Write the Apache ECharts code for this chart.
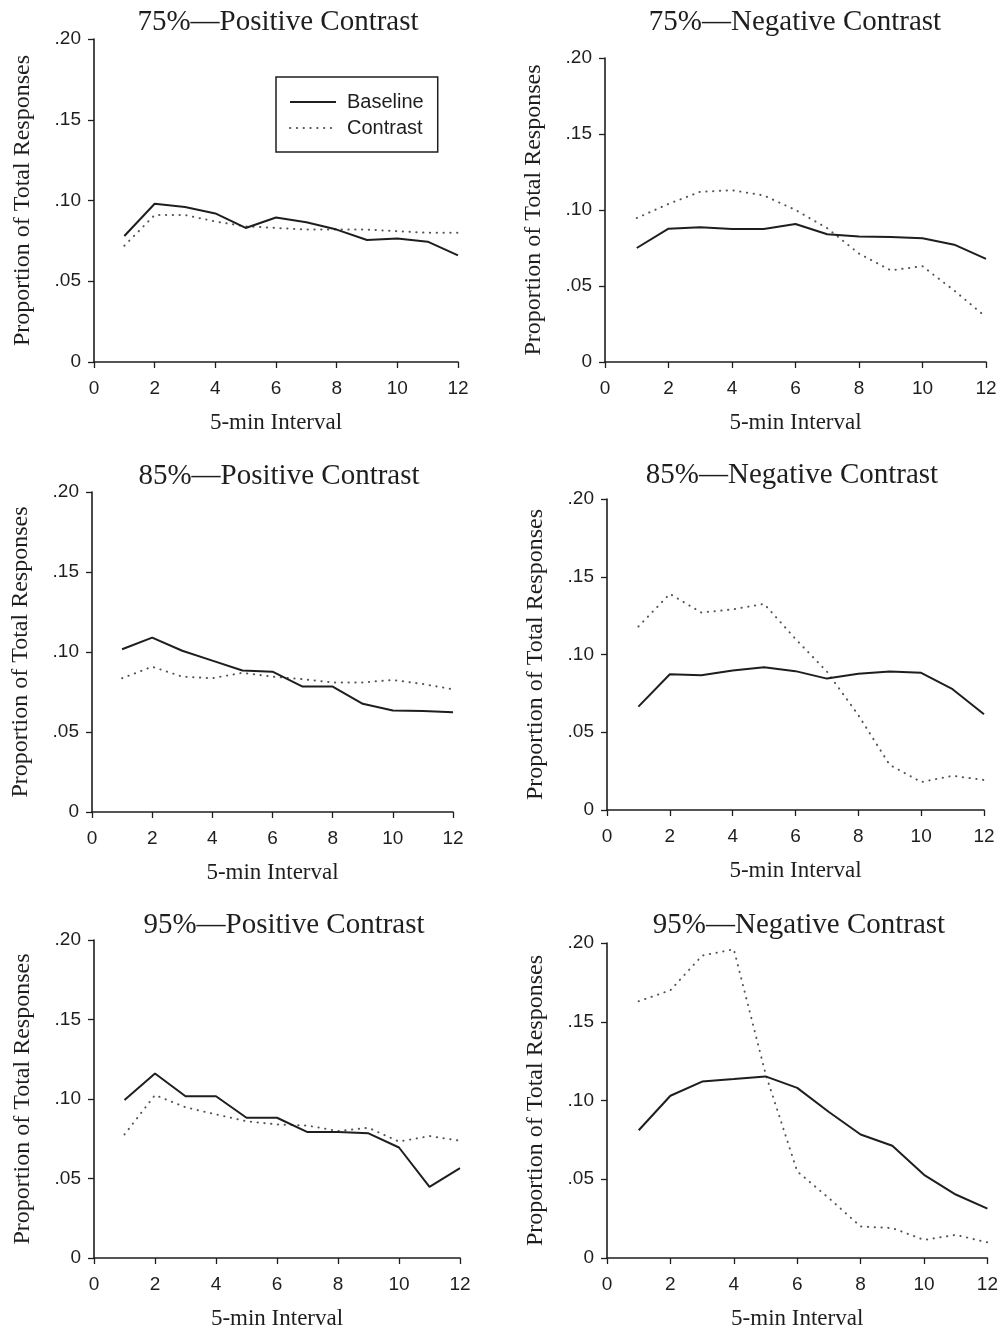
<!DOCTYPE html>
<html>
<head>
<meta charset="utf-8">
<script src="https://cdn.jsdelivr.net/npm/echarts@6/dist/echarts.min.js"></script>
<style>
  html, body { margin: 0; padding: 0; background: #fff; }
  #chart { width: 1001px; height: 1331px; }
</style>
</head>
<body>
<div id="chart"></div>
<script>
// ---- Data ----
const intervals = [1, 2, 3, 4, 5, 6, 7, 8, 9, 10, 11, 12];
const xTickValues = [0, 2, 4, 6, 8, 10, 12];
const yTickLabels = ['0', '.05', '.10', '.15', '.20'];
const seriesNames = ['Baseline', 'Contrast'];
const panelTitles = [
  '75%\u2014Positive Contrast', '75%\u2014Negative Contrast',
  '85%\u2014Positive Contrast', '85%\u2014Negative Contrast',
  '95%\u2014Positive Contrast', '95%\u2014Negative Contrast'
];
const xAxisTitle = '5-min Interval';
const yAxisTitle = 'Proportion of Total Responses';

const baseline75Pos = [0.078, 0.098, 0.096, 0.092, 0.083, 0.0895, 0.0865, 0.082, 0.0755, 0.0765, 0.0745, 0.066];
const contrast75Pos = [0.072, 0.091, 0.091, 0.087, 0.084, 0.083, 0.082, 0.082, 0.082, 0.081, 0.080, 0.080];
const baseline75Neg = [0.075, 0.0877, 0.0886, 0.0875, 0.0875, 0.0908, 0.084, 0.0825, 0.0823, 0.0814, 0.0772, 0.0678];
const contrast75Neg = [0.0947, 0.104, 0.112, 0.113, 0.1096, 0.100, 0.088, 0.0713, 0.0603, 0.063, 0.047, 0.0296];
const baseline85Pos = [0.1017, 0.109, 0.1008, 0.0946, 0.0884, 0.0877, 0.0784, 0.0784, 0.0676, 0.0634, 0.0632, 0.0624];
const contrast85Pos = [0.0836, 0.0908, 0.0846, 0.0836, 0.087, 0.0846, 0.083, 0.081, 0.081, 0.0825, 0.080, 0.0767];
const baseline85Neg = [0.0665, 0.0873, 0.0867, 0.0897, 0.0918, 0.0893, 0.0845, 0.0876, 0.089, 0.0882, 0.0777, 0.0616];
const contrast85Neg = [0.118, 0.139, 0.127, 0.129, 0.1326, 0.110, 0.089, 0.061, 0.029, 0.018, 0.022, 0.0193];
const baseline95Pos = [0.0994, 0.116, 0.1017, 0.1017, 0.0882, 0.0882, 0.0792, 0.0792, 0.0784, 0.0695, 0.0447, 0.0565];
const contrast95Pos = [0.0777, 0.1025, 0.0948, 0.0903, 0.086, 0.084, 0.0833, 0.0798, 0.0819, 0.0732, 0.0767, 0.0738];
const baseline95Neg = [0.0811, 0.103, 0.112, 0.1136, 0.1153, 0.108, 0.0927, 0.0784, 0.0713, 0.0528, 0.0403, 0.0314];
const contrast95Neg = [0.163, 0.170, 0.192, 0.196, 0.117, 0.055, 0.038, 0.020, 0.019, 0.0115, 0.0147, 0.0099];

const panelData = [
  [baseline75Pos, contrast75Pos], [baseline75Neg, contrast75Neg],
  [baseline85Pos, contrast85Pos], [baseline85Neg, contrast85Neg],
  [baseline95Pos, contrast95Pos], [baseline95Neg, contrast95Neg]
];

// ---- Layout ----
const grids = [
  { left: 94, top: 39, width: 364, height: 323 },
  { left: 605, top: 58, width: 381, height: 304 },
  { left: 92, top: 492, width: 361, height: 320 },
  { left: 607, top: 499, width: 377, height: 311 },
  { left: 94, top: 940, width: 366, height: 323 },
  { left: 607, top: 943, width: 382, height: 318 }
];
const titlePos = [
  { x: 278, y: 20 }, { x: 795, y: 20 },
  { x: 279, y: 474 }, { x: 792, y: 473 },
  { x: 284, y: 923 }, { x: 799, y: 923 }
];

const ink = '#1e1e1e';
const dotInk = '#555';
const serif = '"Liberation Serif", "Times New Roman", serif';
const sans = '"Liberation Sans", Arial, sans-serif';

const solidStyle = { color: ink, width: 2, type: 'solid' };
const dotStyle = { color: dotInk, width: 2, type: [0.3, 6.5], cap: 'round' };

const yLabelMap = {};
[0, 0.05, 0.1, 0.15, 0.2].forEach((v, i) => { yLabelMap[v.toFixed(2)] = yTickLabels[i]; });

const option = {
  backgroundColor: '#ffffff',
  animation: false,
  title: panelTitles.map((t, i) => ({
    text: t,
    left: titlePos[i].x,
    top: titlePos[i].y - 12,
    textAlign: 'center',
    padding: 0,
    textStyle: { fontFamily: serif, fontSize: 29, fontWeight: 'normal', color: ink }
  })),
  legend: {
    show: true,
    left: 276, top: 77,
    orient: 'vertical',
    data: seriesNames,
    padding: [15, 14, 14, 13],
    borderColor: ink, borderWidth: 1.5,
    itemWidth: 46, itemHeight: 14, itemGap: 6,
    itemStyle: { opacity: 0, borderWidth: 0 },
    textStyle: { fontFamily: sans, fontSize: 20, color: ink, lineHeight: 20, padding: [0, 0, 0, 6] }
  },
  grid: grids.map(g => Object.assign({ containLabel: false }, g)),
  xAxis: grids.map((g, i) => ({
    gridIndex: i, type: 'value', min: 0, max: 12, interval: 2,
    name: xAxisTitle, nameLocation: 'middle', nameGap: 49,
    nameTextStyle: { fontFamily: serif, fontSize: 23, color: ink },
    axisLine: { show: true, onZero: false, lineStyle: { color: ink, width: 1.6 } },
    axisTick: { show: true, length: 6, inside: false, lineStyle: { color: ink, width: 1.3 } },
    axisLabel: { fontFamily: sans, fontSize: 19, color: ink, margin: 17,
      formatter: v => (xTickValues.indexOf(v) >= 0 ? String(v) : '') },
    splitLine: { show: false }
  })),
  yAxis: grids.map((g, i) => ({
    gridIndex: i, type: 'value', min: 0, max: 0.2, interval: 0.05,
    name: yAxisTitle, nameLocation: 'middle', nameGap: 59,
    nameTextStyle: { fontFamily: serif, fontSize: 24, color: ink },
    axisLine: { show: true, onZero: false, lineStyle: { color: ink, width: 1.6 } },
    axisTick: { show: true, length: 6, inside: false, lineStyle: { color: ink, width: 1.3 } },
    axisLabel: { fontFamily: sans, fontSize: 19, color: ink, margin: 13,
      formatter: v => yLabelMap[v.toFixed(2)] || '' },
    splitLine: { show: false }
  })),
  series: []
};

panelData.forEach((pair, i) => {
  pair.forEach((vals, k) => {
    option.series.push({
      name: seriesNames[k],
      type: 'line',
      xAxisIndex: i, yAxisIndex: i,
      data: intervals.map((x, j) => [x, vals[j]]),
      symbol: 'none',
      lineStyle: k === 0 ? solidStyle : dotStyle,
      itemStyle: { color: k === 0 ? ink : dotInk },
      z: k === 0 ? 3 : 2
    });
  });
});

const chart = echarts.init(document.getElementById('chart'), null, { renderer: 'canvas' });
chart.setOption(option);
</script>
</body>
</html>
